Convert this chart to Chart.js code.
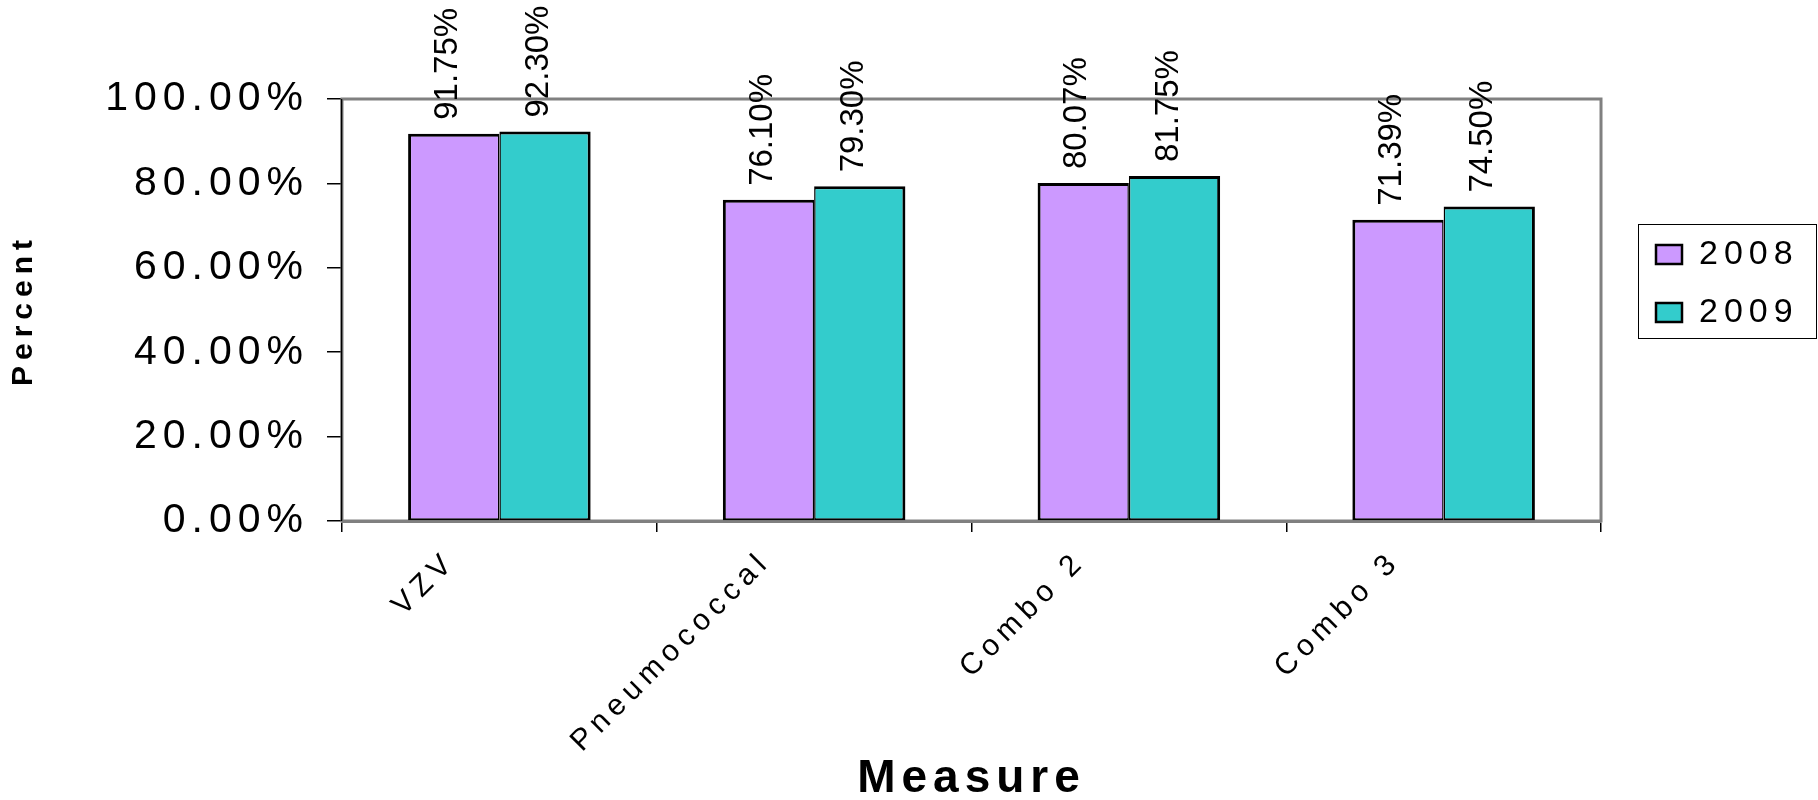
<!DOCTYPE html>
<html>
<head>
<meta charset="utf-8">
<title>Measure</title>
<script src="https://cdn.jsdelivr.net/npm/chart.js@4.4.1/dist/chart.umd.min.js"></script>
<style>
  html, body { margin: 0; padding: 0; background: #fff; }
  #wrap { width: 1818px; height: 800px; }
</style>
</head>
<body>
<div id="wrap"><canvas id="barChart" width="1818" height="800"></canvas></div>
<script>
// ===== データ =====
const MEASURES = ['VZV', 'Pneumococcal', 'Combo 2', 'Combo 3'];
const YEARS = ['2008', '2009'];
const RATE_2008 = [91.75, 76.10, 80.07, 71.39];
const RATE_2009 = [92.30, 79.30, 81.75, 74.50];
const Y_TICKS = [0, 20, 40, 60, 80, 100];

const COLORS = ['#CC99FF', '#33CCCC'];
const AXIS_GRAY = '#808080';
const FONT = '"Liberation Sans", Arial, sans-serif';

// ===== 文字間隔（軸の文字は横に広い） =====
const textSpacing = {
  id: 'textSpacing',
  beforeDraw(chart) { chart.ctx.letterSpacing = '6px'; },
  beforeDatasetsDraw(chart) { chart.ctx.letterSpacing = '0px'; }
};

// ===== プロット枠 =====
const plotFrame = {
  id: 'plotFrame',
  beforeDatasetsDraw(chart) {
    const { ctx, chartArea: a } = chart;
    ctx.save();
    ctx.strokeStyle = AXIS_GRAY;
    ctx.lineWidth = 3;
    ctx.strokeRect(a.left, a.top, a.right - a.left, a.bottom - a.top);
    // 左の軸線は黒
    ctx.strokeStyle = '#000';
    ctx.lineWidth = 1.5;
    ctx.beginPath();
    ctx.moveTo(a.left - 0.5, a.top);
    ctx.lineTo(a.left - 0.5, a.bottom);
    ctx.stroke();
    ctx.restore();
  }
};

// ===== 値ラベル（縦書き） =====
const valueLabels = {
  id: 'valueLabels',
  afterDatasetsDraw(chart) {
    const ctx = chart.ctx;
    chart.data.datasets.forEach((ds, i) => {
      chart.getDatasetMeta(i).data.forEach((bar, j) => {
        ctx.save();
        ctx.translate(bar.x - 6, bar.y - 14);
        ctx.rotate(-Math.PI / 2);
        ctx.font = '33px ' + FONT;
        ctx.fillStyle = '#000';
        ctx.textAlign = 'left';
        ctx.textBaseline = 'middle';
        ctx.fillText(ds.data[j].toFixed(2) + '%', 0, 0);
        ctx.restore();
      });
    });
  }
};

// ===== 凡例（枠付き） =====
const boxLegend = {
  id: 'boxLegend',
  afterDraw(chart) {
    const ctx = chart.ctx;
    ctx.save();
    ctx.strokeStyle = '#000';
    ctx.lineWidth = 1;
    ctx.strokeRect(1638.5, 224.5, 178, 114);
    chart.data.datasets.forEach((ds, i) => {
      const y = 245 + i * 58;
      ctx.fillStyle = ds.backgroundColor;
      ctx.fillRect(1656, y, 26, 19);
      ctx.lineWidth = 2.5;
      ctx.strokeRect(1656, y, 26, 19);
      ctx.letterSpacing = '6px';
      ctx.font = '34px ' + FONT;
      ctx.fillStyle = '#000';
      ctx.textAlign = 'left';
      ctx.textBaseline = 'middle';
      ctx.fillText(ds.label, 1699, y + 10);
    });
    ctx.restore();
  }
};

// ===== 棒グラフ =====
function initBar() {
  const ctx = document.getElementById('barChart');
  new Chart(ctx, {
    type: 'bar',
    data: {
      labels: MEASURES,
      datasets: [
        {
          label: YEARS[0],
          data: RATE_2008,
          backgroundColor: COLORS[0],
          borderColor: '#000',
          borderWidth: { left: 3, top: 3, right: 1.5, bottom: 2 },
          borderSkipped: false
        },
        {
          label: YEARS[1],
          data: RATE_2009,
          backgroundColor: COLORS[1],
          borderColor: '#000',
          borderWidth: { left: 1.5, top: 3, right: 3, bottom: 2 },
          borderSkipped: false
        }
      ]
    },
    options: {
      responsive: false,
      devicePixelRatio: 1,
      animation: false,
      categoryPercentage: 0.58,
      barPercentage: 1,
      layout: { padding: { top: 99, right: 217, left: 0, bottom: 0 } },
      plugins: { legend: { display: false }, tooltip: { enabled: false } },
      scales: {
        x: {
          grid: { drawOnChartArea: false, drawTicks: true, tickLength: 11, color: '#000', lineWidth: 1.5, offset: true },
          border: { color: AXIS_GRAY, width: 3 },
          ticks: {
            minRotation: 45, maxRotation: 45,
            font: { size: 30, family: FONT }, color: '#000',
            padding: 12, labelOffset: -48
          },
          title: {
            display: true, text: 'Measure', color: '#000',
            font: { size: 46, weight: 'bold', family: FONT, lineHeight: 0.8 },
            padding: { top: 0, bottom: 2 }
          },
          afterFit: s => { s.height = 279; }
        },
        y: {
          min: 0, max: 100,
          afterBuildTicks: s => { s.ticks = Y_TICKS.map(v => ({ value: v })); },
          grid: { drawOnChartArea: false, drawTicks: true, tickLength: 15, color: '#000', lineWidth: 1.5 },
          border: { color: '#000', width: 1.5 },
          ticks: {
            callback: v => v.toFixed(2) + '%',
            font: { size: 41, family: FONT }, color: '#000', padding: 18
          },
          title: {
            display: true, text: 'Percent', color: '#000',
            font: { size: 30, weight: 'bold', family: FONT },
            padding: { top: 6 }
          },
          afterFit: s => { s.width = 342; }
        }
      }
    },
    plugins: [textSpacing, plotFrame, valueLabels, boxLegend]
  });
}

document.addEventListener('DOMContentLoaded', () => {
  initBar();
});
</script>
</body>
</html>
